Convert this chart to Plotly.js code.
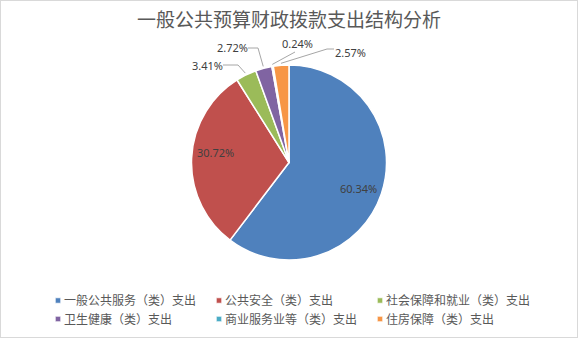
<!DOCTYPE html>
<html>
<head>
<meta charset="utf-8">
<script src="https://cdn.plot.ly/plotly-3.0.1.min.js"></script>
<style>
  html, body { margin: 0; padding: 0; background: #fff; }
  #chart { width: 576px; height: 336px; border: 1px solid #d9d9d9; }
</style>
</head>
<body>
<div id="chart"></div>
<script>
// ---- data ----
const categories = ['一般公共服务（类）支出', '公共安全（类）支出', '社会保障和就业（类）支出',
                    '卫生健康（类）支出', '商业服务业等（类）支出', '住房保障（类）支出'];
const values = [60.34, 30.72, 3.41, 2.72, 0.24, 2.57];
const titleText = '一般公共预算财政拨款支出结构分析';

// ---- styles / layout constants ----
const colors = ['#4F81BD', '#C0504D', '#9BBB59', '#8064A2', '#4BACC6', '#F79646'];
const W = 576, H = 336;
const CX = 288, CY = 161.5, R = 97.5;
// label text centres (px) and leader line waypoints (px), null = no leader line
const labelXY = [[357, 187], [214, 151], [206, 64], [231, 47], [296.5, 42], [349, 51]];
const leaderPts = [null, null, [[222, 64], [237, 64]], [[247, 47], [257, 47]], [[294, 51]], [[333, 48], [326, 48]]];
const legendRowGap = 18.5;

const px = x => x / W;
const py = y => 1 - y / H;

const total = values.reduce((a, b) => a + b, 0);
let cum = 0;
const annotations = [];
const shapes = [];
values.forEach((v, i) => {
  const mid = (cum + v / 2) / total * 2 * Math.PI;
  cum += v;
  annotations.push({
    x: px(labelXY[i][0]), y: py(labelXY[i][1]), xref: 'paper', yref: 'paper',
    xanchor: 'center', yanchor: 'middle', showarrow: false,
    text: v.toFixed(2) + '%',
    font: { family: 'Noto Sans, sans-serif', size: 11, color: '#404040' }
  });
  if (leaderPts[i]) {
    const ax = CX + (R + 2) * Math.sin(mid);
    const ay = CY - (R + 2) * Math.cos(mid);
    const pts = leaderPts[i].concat([[ax, ay]]);
    const d = pts.map((p, k) => (k ? 'L' : 'M') + px(p[0]) + ',' + py(p[1])).join(' ');
    shapes.push({ type: 'path', xref: 'paper', yref: 'paper', path: d,
                  line: { color: '#a6a6a6', width: 1 } });
  }
});

const trace = {
  type: 'pie',
  labels: categories,
  values: values,
  sort: false,
  direction: 'clockwise',
  rotation: 0,
  textinfo: 'none',
  hoverinfo: 'skip',
  marker: { colors: colors, line: { color: '#ffffff', width: 1.5 } },
  domain: { x: [px(CX - R), px(CX + R)], y: [py(CY + R), py(CY - R)] }
};

const layout = {
  width: W, height: H,
  margin: { l: 0, r: 0, t: 0, b: 0 },
  paper_bgcolor: '#ffffff',
  title: {
    text: titleText, x: 0.5, xanchor: 'center', y: py(19), yanchor: 'middle',
    font: { family: 'Noto Sans CJK SC, sans-serif', size: 19, color: '#595959' }
  },
  showlegend: true,
  legend: {
    orientation: 'h', x: px(23), xanchor: 'left', y: py(285), yanchor: 'top',
    entrywidth: 116, entrywidthmode: 'pixels', traceorder: 'normal',
    font: { family: 'Noto Sans CJK SC, sans-serif', size: 12, color: '#595959' },
    bgcolor: 'rgba(0,0,0,0)'
  },
  annotations: annotations,
  shapes: shapes
};

Plotly.newPlot('chart', [trace], layout, { displayModeBar: false, staticPlot: true }).then(() => {
  // smaller legend swatches, closer to their text
  document.querySelectorAll('.legendpoints path').forEach(p => {
    const t = p.getAttribute('transform') || '';
    p.setAttribute('transform', t + ' translate(14,0) scale(0.45)');
  });
  // let long legend text overflow the computed legend box
  document.querySelectorAll('.legend .scrollbox, .legend').forEach(el => {
    el.removeAttribute('clip-path');
    el.style.clipPath = 'none';
  });
  // tighter row spacing
  const items = Array.from(document.querySelectorAll('.legend .traces'));
  const re = /translate\(\s*([-\d.]+)[ ,]+([-\d.]+)\s*\)/;
  const ys = items.map(g => { const m = (g.getAttribute('transform') || '').match(re); return m ? +m[2] : 0; });
  const rows = Array.from(new Set(ys)).sort((a, b) => a - b);
  items.forEach((g, k) => {
    const m = (g.getAttribute('transform') || '').match(re);
    if (!m) return;
    const r = rows.indexOf(ys[k]);
    g.setAttribute('transform', 'translate(' + m[1] + ',' + (rows[0] + r * legendRowGap) + ')');
  });
});
</script>
</body>
</html>
